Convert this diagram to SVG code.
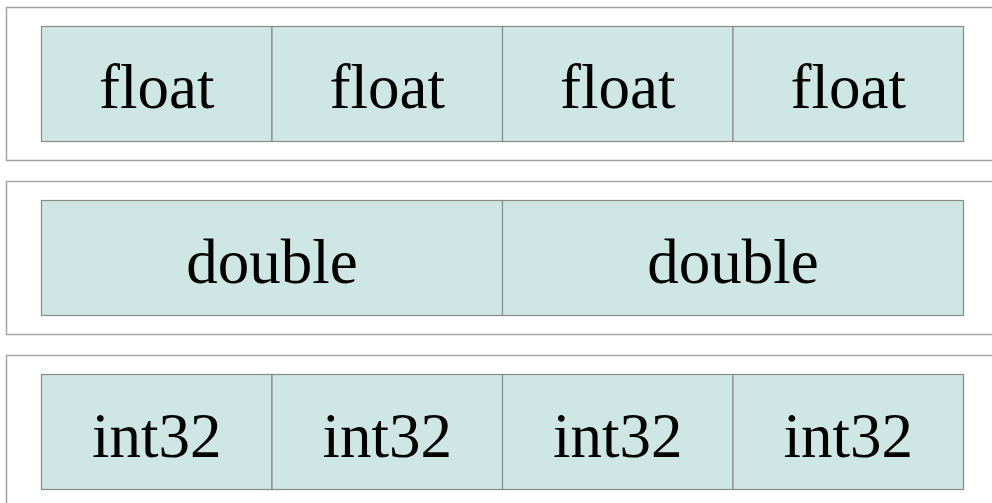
<svg xmlns="http://www.w3.org/2000/svg" width="992" height="503" viewBox="0 0 992 503">
<style>
.outer{fill:#ffffff;stroke:#a6a6a6;stroke-width:1.5}
.cell{fill:#cfe7e4;stroke:#8a8a8a;stroke-width:1.2}
.lbl{font-family:"Liberation Serif","Times New Roman",serif;font-size:63px;fill:#000;text-anchor:middle}
</style>
<rect width="992" height="503" fill="#ffffff"/>
<g id="row-float">
<rect class="outer" x="6.5" y="7.5" width="1000" height="153"/>
<g id="float1"><rect class="cell" x="41.5" y="26.5" width="230.5" height="115"/><text class="lbl" x="156.75" y="108">float</text></g>
<g id="float2"><rect class="cell" x="272" y="26.5" width="230.5" height="115"/><text class="lbl" x="387.25" y="108">float</text></g>
<g id="float3"><rect class="cell" x="502.5" y="26.5" width="230.5" height="115"/><text class="lbl" x="617.75" y="108">float</text></g>
<g id="float4"><rect class="cell" x="733" y="26.5" width="230.5" height="115"/><text class="lbl" x="848.25" y="108">float</text></g>
</g>
<g id="row-double">
<rect class="outer" x="6.5" y="181.5" width="1000" height="153"/>
<g id="double1"><rect class="cell" x="41.5" y="200.5" width="461" height="115"/><text class="lbl" x="272" y="283">double</text></g>
<g id="double2"><rect class="cell" x="502.5" y="200.5" width="461" height="115"/><text class="lbl" x="733" y="283">double</text></g>
</g>
<g id="row-int32">
<rect class="outer" x="6.5" y="355.5" width="1000" height="160"/>
<g id="int1"><rect class="cell" x="41.5" y="374.5" width="230.5" height="115"/><text class="lbl" x="156.75" y="457">int32</text></g>
<g id="int2"><rect class="cell" x="272" y="374.5" width="230.5" height="115"/><text class="lbl" x="387.25" y="457">int32</text></g>
<g id="int3"><rect class="cell" x="502.5" y="374.5" width="230.5" height="115"/><text class="lbl" x="617.75" y="457">int32</text></g>
<g id="int4"><rect class="cell" x="733" y="374.5" width="230.5" height="115"/><text class="lbl" x="848.25" y="457">int32</text></g>
</g>
<g id="connectors"/>
</svg>
